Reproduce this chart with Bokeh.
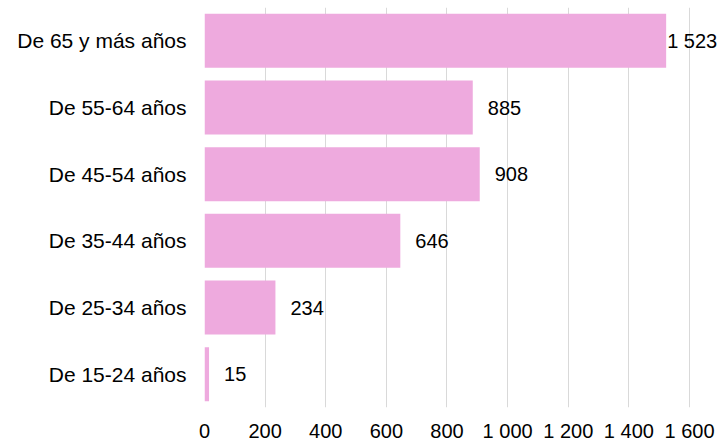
from bokeh.plotting import figure
from bokeh.models import ColumnDataSource, Range1d, FixedTicker
from bokeh.core.properties import value
from bokeh.embed import file_html
from bokeh.resources import INLINE

# Data (top to bottom as in the picture)
categories = ["De 65 y más años", "De 55-64 años", "De 45-54 años",
              "De 35-44 años", "De 25-34 años", "De 15-24 años"]
counts = [1523, 885, 908, 646, 234, 15]
tick_values = [0, 200, 400, 600, 800, 1000, 1200, 1400, 1600]
tick_labels = ["0", "200", "400", "600", "800", "1 000", "1 200", "1 400", "1 600"]

FONT = "Liberation Sans"
BAR = "#EEAADE"

labels = [f"{v:,}".replace(",", " ") for v in counts]
offsets = [1 if v == max(counts) else 15 for v in counts]
src = ColumnDataSource(dict(cat=categories, val=counts, lab=labels, off=offsets))

p = figure(width=719, height=444, output_backend="svg", toolbar_location=None,
           y_range=list(reversed(categories)), x_range=Range1d(0, 1699),
           min_border_left=204, min_border_top=7, min_border_right=0,
           min_border_bottom=0)

p.hbar(y="cat", right="val", left=0, height=0.81, source=src,
       fill_color=BAR, line_color=None)

p.text(x="val", y="cat", text="lab", source=src, x_offset="off",
       text_align="left", text_baseline="middle",
       text_font=value(FONT), text_font_size="20px", text_color="#000000")

p.outline_line_color = None
p.background_fill_color = "white"
p.border_fill_color = "white"

p.ygrid.grid_line_color = None
p.xgrid.grid_line_color = "#D9D9D9"
p.xgrid.grid_line_width = 1
p.xgrid.ticker = FixedTicker(ticks=tick_values)

p.xaxis.ticker = FixedTicker(ticks=tick_values)
p.xaxis.major_label_overrides = {t: l for t, l in zip(tick_values, tick_labels)}
for ax in (p.xaxis[0], p.yaxis[0]):
    ax.axis_line_color = None
    ax.major_tick_line_color = None
    ax.minor_tick_line_color = None
    ax.major_label_text_font = FONT
    ax.major_label_text_color = "#000000"

p.xaxis.major_label_text_font_size = "20px"
p.xaxis.major_label_standoff = 6
p.yaxis.major_label_text_font_size = "21px"
p.yaxis.major_label_standoff = 12

open("out.html", "w").write(file_html(p, INLINE))
